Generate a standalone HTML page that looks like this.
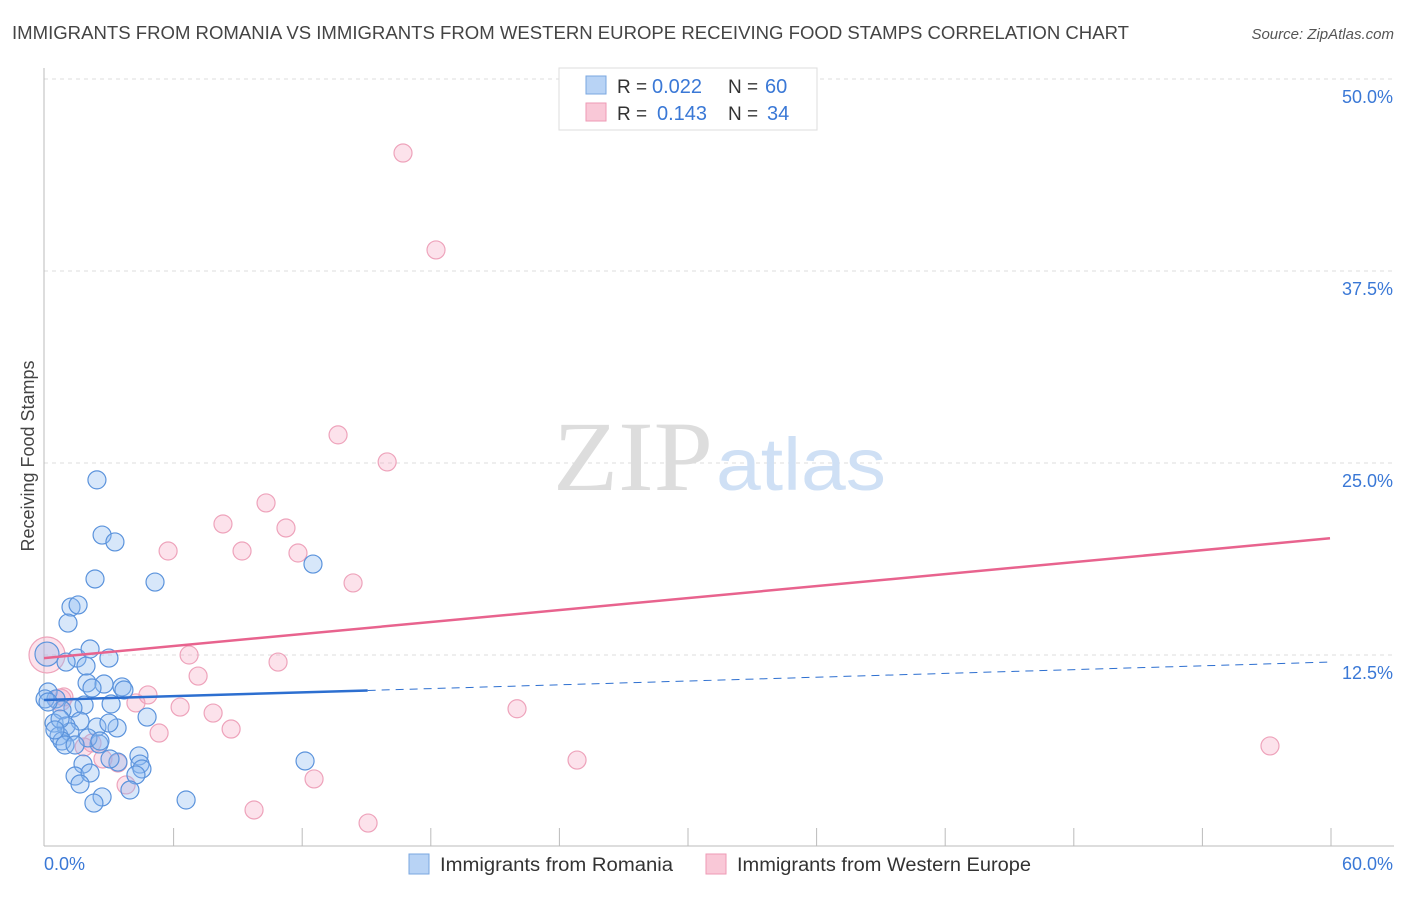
<!DOCTYPE html>
<html><head><meta charset="utf-8"><style>
body{margin:0;background:#fff;font-family:"Liberation Sans",sans-serif;}
svg text{font-family:"Liberation Sans",sans-serif;}
</style></head><body>
<svg id="c" width="1406" height="892" viewBox="0 0 1406 892">
<text x="12" y="39" font-size="18" fill="#444" textLength="1117" lengthAdjust="spacingAndGlyphs">IMMIGRANTS FROM ROMANIA VS IMMIGRANTS FROM WESTERN EUROPE RECEIVING FOOD STAMPS CORRELATION CHART</text>
<text x="1394" y="39" font-size="15" fill="#555" font-style="italic" text-anchor="end">Source: ZipAtlas.com</text>
<text x="34" y="456" font-size="18" fill="#444" text-anchor="middle" transform="rotate(-90 34 456)">Receiving Food Stamps</text>
<g id="grid"></g>
<text x="553" y="490" font-size="100" fill="#ddd" textLength="160" lengthAdjust="spacingAndGlyphs" style="font-family:'Liberation Serif',serif">ZIP</text>
<text x="716" y="490" font-size="74" fill="#cfe0f5" textLength="170" lengthAdjust="spacingAndGlyphs">atlas</text>
<g id="pts"></g>
<g id="lines"></g>
<g>
<rect x="559" y="68" width="258" height="62" fill="#fff" stroke="#ddd"/>
<rect x="586" y="76" width="20" height="18" fill="#b8d3f5" stroke="#7aa7e0"/>
<rect x="586" y="103" width="20" height="18" fill="#f9c8d7" stroke="#ee9ab4"/>
<text x="617" y="93" font-size="19" fill="#333">R =</text>
<text x="652" y="93" font-size="20" fill="#3a78d6">0.022</text>
<text x="728" y="93" font-size="19" fill="#333">N =</text>
<text x="765" y="93" font-size="20" fill="#3a78d6">60</text>
<text x="617" y="120" font-size="19" fill="#333">R =</text>
<text x="657" y="120" font-size="20" fill="#3a78d6">0.143</text>
<text x="728" y="120" font-size="19" fill="#333">N =</text>
<text x="767" y="120" font-size="20" fill="#3a78d6">34</text>
</g>
<g>
<rect x="409" y="854" width="20" height="20" fill="#b8d3f5" stroke="#7aa7e0"/>
<text x="440" y="871" font-size="19" fill="#333" textLength="233" lengthAdjust="spacingAndGlyphs">Immigrants from Romania</text>
<rect x="706" y="854" width="20" height="20" fill="#f9c8d7" stroke="#ee9ab4"/>
<text x="737" y="871" font-size="19" fill="#333" textLength="294" lengthAdjust="spacingAndGlyphs">Immigrants from Western Europe</text>
</g>
</svg>
<script>
const yTicks=[12.5,25,37.5,50];
const yTickLabels=["12.5%","25.0%","37.5%","50.0%"];
const xTicks=[6,12,18,24,30,36,42,48,54,60];
const romX=[2.47,2.71,3.31,2.38,5.18,12.55,1.26,1.59,1.12,0.14,1.54,2.15,3.03,1.96,1.03,2.01,2.8,3.64,0.19,0.56,2.24,3.73,3.13,1.87,1.35,0.84,0.47,1.68,1.03,2.47,3.41,3.03,4.81,0.7,1.21,2.57,4.43,0.84,1.82,3.45,4.48,4.57,1.45,2.15,4.29,1.68,4.01,2.71,2.33,6.63,12.18,0.05,0.19,0.75,0.98,2.05,3.08,1.45,0.51,2.61];
const romY=[23.9,20.31,19.86,17.45,17.25,18.42,15.62,15.76,14.58,12.56,12.3,12.89,12.3,11.78,12.04,10.68,10.61,10.42,10.09,9.64,10.35,10.22,9.31,9.24,9.05,8.92,8.07,8.2,7.88,7.81,7.75,8.07,8.46,7.23,7.49,6.71,5.93,6.9,5.4,5.53,5.4,5.08,4.62,4.82,4.69,4.1,3.71,3.26,2.86,3.06,5.6,9.64,9.44,8.33,6.64,7.1,5.73,6.64,7.62,6.9];
const weX=[16.75,18.29,13.72,16.01,10.36,8.35,11.29,5.79,9.24,11.85,14.42,6.77,10.92,7.19,4.85,4.29,6.35,7.89,22.07,8.73,5.37,0.93,1.87,2.75,3.45,3.83,12.6,24.87,57.2,9.8,15.12,0.14,0.75,2.24];
const weY=[45.18,38.87,26.83,25.07,22.4,21.03,20.77,19.27,19.27,19.14,17.19,12.5,12.04,11.13,9.9,9.38,9.11,8.72,9.0,7.68,7.42,9.77,6.51,5.73,5.47,4.04,4.43,5.66,6.58,2.41,1.56,12.5,9.57,6.77];
const romSize=[9,9,9,9,9,9,9,9,9,12,9,9,9,9,9,9,9,9,9,9,9,9,9,9,9,9,9,9,9,9,9,9,9,9,9,9,9,9,9,9,9,9,9,9,9,9,9,9,9,9,9,9,9,9,9,9,9,9,9,9];
const weSize=[9,9,9,9,9,9,9,9,9,9,9,9,9,9,9,9,9,9,9,9,9,9,9,9,9,9,9,9,9,9,9,18,11,9];
const romTrend=[9.57,12.04];
const weTrend=[12.3,20.1];
const NS='http://www.w3.org/2000/svg';
const X=v=>44+v*(1286/60), Y=v=>847-v*15.36;
function mk(t,a,p){const e=document.createElementNS(NS,t);for(const k in a)e.setAttribute(k,a[k]);p.appendChild(e);return e;}
const g=document.getElementById('grid');
yTicks.forEach((t,i)=>{
 const l=mk('line',{x1:44,x2:1394,y1:Y(t),y2:Y(t),stroke:'#ddd','stroke-dasharray':'4,4'},g);
 
 
 const tx=mk('text',{x:1393,y:Y(t)+24,'font-size':18,fill:'#3a78d6','text-anchor':'end'},g);
 tx.textContent=yTickLabels[i];
 
 
});
const ax=mk('line',{x1:44,x2:44,y1:68,y2:846,stroke:'#bbb'},g);


const bx=mk('line',{x1:44,x2:1394,y1:846,y2:846,stroke:'#bbb'},g);


xTicks.forEach(t=>{const l=mk('line',{x1:X(t)+1,x2:X(t)+1,y1:828,y2:846,stroke:'#bbb'},g);
 
 });
const x0=mk('text',{x:44,y:870,'font-size':18,fill:'#3a78d6'},g);x0.textContent='0.0%';


const x1=mk('text',{x:1393,y:870,'font-size':18,fill:'#3a78d6','text-anchor':'end'},g);x1.textContent='60.0%';


const p=document.getElementById('pts');
weX.forEach((v,i)=>{const c=mk('circle',{cx:X(v),cy:Y(weY[i]),r:weSize[i],fill:'rgba(244,160,188,0.3)',stroke:'#eea3bb','stroke-width':1.2},p);
 
 });
romX.forEach((v,i)=>{const c=mk('circle',{cx:X(v),cy:Y(romY[i]),r:romSize[i],fill:'rgba(140,185,240,0.35)',stroke:'#5b93dc','stroke-width':1.2},p);
 
 });
const L=document.getElementById('lines');
const wl=mk('line',{x1:X(0),y1:Y(weTrend[0]),x2:X(60),y2:Y(weTrend[1]),stroke:'#e8638e','stroke-width':2.5},L);


const rxEnd=15.1, ry=t=>romTrend[0]+(romTrend[1]-romTrend[0])*t/60;
const rl=mk('line',{x1:X(0),y1:Y(ry(0)),x2:X(rxEnd),y2:Y(ry(rxEnd)),stroke:'#2d6fd0','stroke-width':2.5},L);


const rd=mk('line',{x1:X(rxEnd),y1:Y(ry(rxEnd)),x2:X(60),y2:Y(ry(60)),stroke:'#2d6fd0','stroke-width':1,'stroke-dasharray':'8,6'},L);


</script>
</body></html>
